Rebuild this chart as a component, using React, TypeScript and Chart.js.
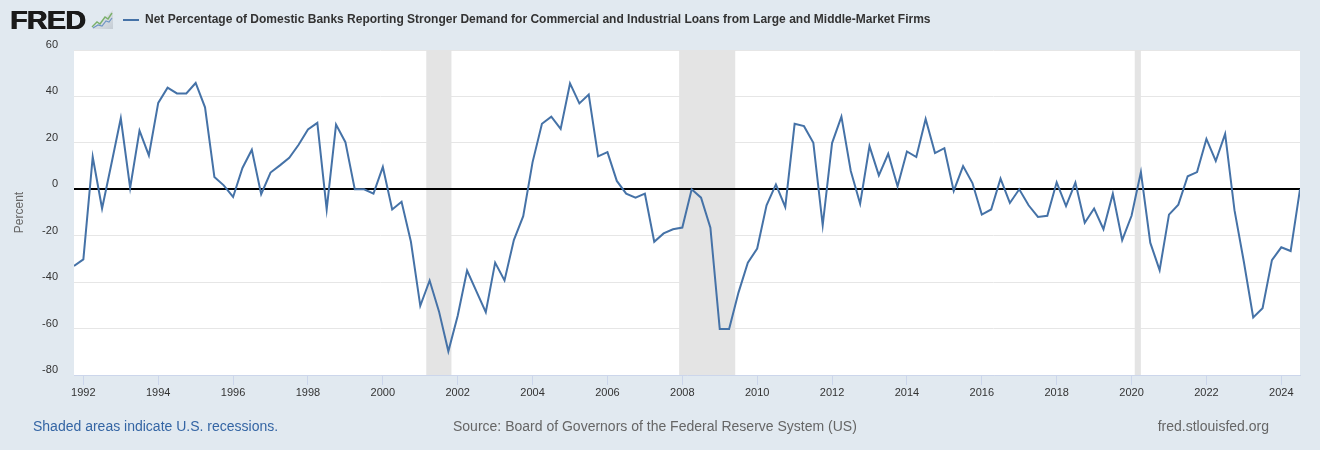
import React, { useEffect, useRef } from "react";
import { Chart, registerables } from "chart.js";

Chart.register(...registerables);

// ---- Data (quarterly, first observation 1991 Q4) ----
const FIRST_QUARTER = 1991.75;
const QUARTER_STEP = 0.25;
const values: number[] = [
  -33, -30.2, 13.9, -8.3, 11, 30.6, 0.6, 25.3, 14.6, 37.2,
  43.8, 41.3, 41.3, 45.8, 35.3, 5.3, 1.7, -3.3, 9.2, 17,
  -2.1, 7.2, 10.3, 13.6, 19.2, 25.8, 28.6, -8.7, 27.9, 20.3,
  0, 0, -1.9, 9.6, -8.7, -5.4, -22.6, -50.2, -39.3, -52.6,
  -69.8, -54.5, -35, -44, -52.9, -31.6, -39.3, -21.9, -11.6, 11.7,
  28.2, 31.3, 26, 45.6, 37, 40.8, 14.2, 16, 3.6, -1.9,
  -3.6, -1.9, -22.6, -19, -17.2, -16.5, 0, -3.6, -16.5, -60.2,
  -60.2, -44.5, -31.6, -25.5, -6.9, 2.1, -7.6, 28.2, 27.2, 20,
  -15.5, 19.9, 31.3, 7.9, -6.2, 18.6, 6, 15.3, 1.3, 16.3,
  13.9, 30.3, 15.6, 17.7, -0.7, 10, 2.7, -10.9, -8.7, 4.6,
  -5.9, 0, -6.9, -11.9, -11.4, 3, -7.2, 2.9, -14.4, -8.3,
  -17.2, -1.9, -21.9, -11.4, 7.4, -23, -34.8, -10.9, -6.6, 5.6,
  7.4, 21.7, 12.2, 23.9, -9, -31.2, -55.2, -51.2, -30.5, -25,
  -26.6, 0,
];
const quarterDates: number[] = values.map((_, i) => FIRST_QUARTER + i * QUARTER_STEP);
const xMin = 1991.75;
const xMax = 2024.5;
const yearTicks: number[] = [1992, 1994, 1996, 1998, 2000, 2002, 2004, 2006, 2008, 2010, 2012, 2014, 2016, 2018, 2020, 2022, 2024];
const percentTicks: number[] = [-80, -60, -40, -20, 0, 20, 40, 60];
const recessionStarts: number[] = [2001.16, 2007.915, 2020.085];
const recessionEnds: number[] = [2001.833, 2009.413, 2020.249];

const SERIES_TITLE =
  "Net Percentage of Domestic Banks Reporting Stronger Demand for Commercial and Industrial Loans from Large and Middle-Market Firms";

const FONT = "'Liberation Sans', Arial, Helvetica, sans-serif";
const LINE_COLOR = "#4572a7";

const fredPlugin = {
  id: "fredDecor",
  beforeDraw(chart: any) {
    const { ctx, chartArea } = chart;
    const { left, top, right, bottom } = chartArea;
    ctx.save();
    ctx.fillStyle = "#ffffff";
    ctx.fillRect(left, top, right - left, bottom - top);
    ctx.restore();
  },
  beforeDatasetsDraw(chart: any) {
    const { ctx, chartArea, scales } = chart;
    const { top, bottom, left, right } = chartArea;
    ctx.save();
    ctx.fillStyle = "#e4e4e4";
    for (let i = 0; i < recessionStarts.length; i++) {
      const x0 = scales.x.getPixelForValue(recessionStarts[i]);
      const x1 = scales.x.getPixelForValue(recessionEnds[i]);
      ctx.fillRect(x0, top, x1 - x0, bottom - top);
    }
    const y0 = Math.round(scales.y.getPixelForValue(0));
    ctx.strokeStyle = "#000000";
    ctx.lineWidth = 2;
    ctx.beginPath();
    ctx.moveTo(left, y0);
    ctx.lineTo(right, y0);
    ctx.stroke();
    ctx.restore();
  },
};

function FredChart() {
  const canvasRef = useRef<HTMLCanvasElement | null>(null);

  useEffect(() => {
    if (!canvasRef.current) return;
    const chart = new Chart(canvasRef.current, {
      type: "line",
      data: {
        datasets: [
          {
            label: SERIES_TITLE,
            data: values.map((v, i) => ({ x: quarterDates[i], y: v })),
            borderColor: LINE_COLOR,
            borderWidth: 2,
            pointRadius: 0,
            tension: 0,
            fill: false,
          },
        ],
      },
      options: {
        responsive: false,
        animation: false,
        devicePixelRatio: 1,
        layout: { padding: { left: 0, top: 50, right: 20, bottom: 0 } },
        plugins: {
          legend: { display: false },
          title: { display: false },
          tooltip: { enabled: false },
        },
        scales: {
          x: {
            type: "linear",
            min: xMin,
            max: xMax,
            afterBuildTicks: (scale: any) => {
              scale.ticks = yearTicks.map((v) => ({ value: v }));
            },
            afterFit: (scale: any) => {
              scale.height = 75;
            },
            grid: {
              drawOnChartArea: false,
              drawTicks: true,
              tickLength: 10,
              color: "#ccd6eb",
              lineWidth: 1,
            },
            border: { display: true, color: "#ccd6eb", width: 1 },
            ticks: {
              padding: 1,
              color: "#333333",
              font: { family: FONT, size: 11 },
              maxRotation: 0,
              autoSkip: false,
              callback: (v: any) => String(v),
            },
          },
          y: {
            type: "linear",
            min: -80,
            max: 60,
            afterBuildTicks: (scale: any) => {
              scale.ticks = percentTicks.map((v) => ({ value: v }));
            },
            afterFit: (scale: any) => {
              scale.width = 74;
            },
            grid: {
              drawTicks: false,
              color: (ctx: any) => (ctx.tick && ctx.tick.value === 0 ? "rgba(0,0,0,0)" : "#e6e6e6"),
              lineWidth: 1,
            },
            border: { display: false },
            ticks: {
              padding: 16,
              labelOffset: -5,
              color: "#333333",
              font: { family: FONT, size: 11 },
              callback: (v: any) => String(v),
            },
            title: {
              display: true,
              text: "Percent",
              color: "#666666",
              font: { family: FONT, size: 12 },
              padding: { top: 12, bottom: 0 },
            },
          },
        },
      },
      plugins: [fredPlugin],
    } as any);
    return () => chart.destroy();
  }, []);

  return (
    <canvas
      ref={canvasRef}
      width={1320}
      height={450}
      style={{ position: "absolute", left: 0, top: 0, width: 1320, height: 450 }}
    />
  );
}

function FredIcon() {
  return (
    <svg width="24" height="20" viewBox="0 0 24 20" style={{ position: "absolute", left: 90, top: 10 }}>
      <defs>
        <linearGradient id="fredIconBg" x1="0" y1="0" x2="1" y2="1">
          <stop offset="0" stopColor="#eef1f4" />
          <stop offset="1" stopColor="#c4ccd4" />
        </linearGradient>
      </defs>
      <polygon points="2,19 23,0 23,19" fill="url(#fredIconBg)" />
      <polyline points="2,17 7,12 10,14 15,7 18,9 22,3" fill="none" stroke="#7ab06a" strokeWidth="1.4" />
      <polyline points="3,18 8,15 12,16 16,11 19,12 22,8" fill="none" stroke="#6f95c4" strokeWidth="1.2" />
    </svg>
  );
}

export default function App() {
  return (
    <div
      style={{
        position: "fixed",
        left: 0,
        top: 0,
        width: 1320,
        height: 450,
        background: "#e1e9f0",
        overflow: "hidden",
        fontFamily: FONT,
      }}
    >
      <FredChart />
      <div
        style={{
          position: "absolute",
          left: 10,
          top: 8,
          fontSize: 25,
          lineHeight: "25px",
          fontWeight: 700,
          color: "#1a1a1a",
          transform: "scaleX(1.14)",
          transformOrigin: "left top",
          letterSpacing: "-0.5px",
          textShadow: "0.6px 0 0 #1a1a1a, -0.3px 0 0 #1a1a1a",
        }}
      >
        FRED
      </div>
      <FredIcon />
      <div
        style={{
          position: "absolute",
          left: 123,
          top: 19,
          width: 16,
          height: 2,
          background: LINE_COLOR,
        }}
      />
      <div
        style={{
          position: "absolute",
          left: 145,
          top: 12,
          fontSize: 12,
          lineHeight: "14px",
          fontWeight: 700,
          color: "#333333",
          whiteSpace: "nowrap",
        }}
      >
        {SERIES_TITLE}
      </div>
      <div
        style={{
          position: "absolute",
          left: 33,
          top: 418,
          fontSize: 14,
          lineHeight: "16px",
          color: "#3465a4",
          whiteSpace: "nowrap",
        }}
      >
        Shaded areas indicate U.S. recessions.
      </div>
      <div
        style={{
          position: "absolute",
          left: 453,
          top: 418,
          fontSize: 14,
          lineHeight: "16px",
          color: "#666666",
          whiteSpace: "nowrap",
        }}
      >
        Source: Board of Governors of the Federal Reserve System (US)
      </div>
      <div
        style={{
          position: "absolute",
          right: 51,
          top: 418,
          fontSize: 14,
          lineHeight: "16px",
          color: "#666666",
          whiteSpace: "nowrap",
        }}
      >
        fred.stlouisfed.org
      </div>
    </div>
  );
}
